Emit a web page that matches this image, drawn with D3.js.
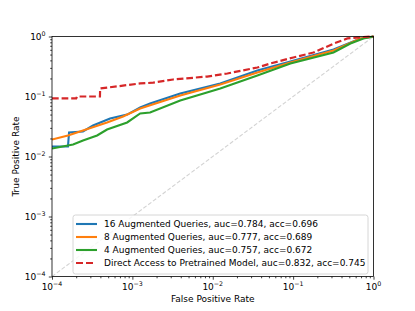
<!DOCTYPE html>
<html>
<head>
<meta charset="utf-8">
<script src="https://cdn.jsdelivr.net/npm/d3@7"></script>
<style>
  body { margin: 0; background: #fff; }
  svg text { font-family: "DejaVu Sans", sans-serif; fill: #000; }
</style>
</head>
<body>
<svg id="chart" width="415" height="311"></svg>
<script>
"use strict";

// ROC curves (fpr, tpr)
let fpr16 = [1e-4, 1.58e-4, 1.63e-4, 2.43e-4, 3.24e-4, 5.28e-4, 8.61e-4, 1.25e-3, 1.66e-3, 3.94e-3, 0.0124, 0.0359, 0.0925, 0.318, 0.689, 1];
let tpr16 = [0.0147, 0.0147, 0.0251, 0.0261, 0.0329, 0.043, 0.050, 0.0656, 0.0764, 0.112, 0.165, 0.271, 0.383, 0.607, 0.926, 1];

let fpr8 = [1e-4, 1.58e-4, 2.43e-4, 4.84e-4, 7.67e-4, 1.25e-3, 3.94e-3, 0.0124, 0.0359, 0.0925, 0.318, 0.689, 1];
let tpr8 = [0.0192, 0.0224, 0.0271, 0.0369, 0.0464, 0.063, 0.104, 0.158, 0.251, 0.369, 0.585, 0.926, 1];

let fpr4 = [1e-4, 1.83e-4, 2.43e-4, 3.64e-4, 4.84e-4, 8.61e-4, 1.25e-3, 1.66e-3, 3.94e-3, 0.0124, 0.0359, 0.0925, 0.318, 0.516, 0.75, 1];
let tpr4 = [0.0136, 0.0158, 0.0185, 0.0224, 0.0282, 0.0369, 0.0521, 0.0541, 0.0858, 0.136, 0.224, 0.355, 0.541, 0.764, 0.926, 1];

let fprDirect = [1e-4, 2.0e-4, 2.05e-4, 3.95e-4, 3.97e-4, 1.25e-3, 1.82e-3, 3.22e-3, 8.5e-3, 0.0152, 0.0359, 0.0521, 0.1007, 0.179, 0.318, 0.474, 0.75, 1];
let tprDirect = [0.093, 0.093, 0.1, 0.1, 0.136, 0.165, 0.17, 0.192, 0.215, 0.242, 0.304, 0.355, 0.447, 0.54, 0.76, 0.93, 0.98, 1];

let seriesNames = [
  "16 Augmented Queries, auc=0.784, acc=0.696",
  "8 Augmented Queries, auc=0.777, acc=0.689",
  "4 Augmented Queries, auc=0.757, acc=0.672",
  "Direct Access to Pretrained Model, auc=0.832, acc=0.745"
];
let seriesColors = ["#1f77b4", "#ff7f0e", "#2ca02c", "#d62728"];
let majorTicks = [1e-4, 1e-3, 1e-2, 1e-1, 1];
let tickExponents = ["\u22124", "\u22123", "\u22122", "\u22121", "0"];

let svg = d3.select("#chart");
let margin = { left: 52, right: 41.5, top: 36.5, bottom: 34.5 };
let plotW = 415 - margin.left - margin.right;
let plotH = 311 - margin.top - margin.bottom;

let x = d3.scaleLog().domain([1e-4, 1]).range([margin.left, margin.left + plotW]);
let y = d3.scaleLog().domain([1e-4, 1]).range([margin.top + plotH, margin.top]);

let minorTicks = [];
for (let e = -4; e < 0; e++) {
  for (let m = 2; m <= 9; m++) minorTicks.push(m * Math.pow(10, e));
}

// diagonal reference
svg.append("line")
  .attr("x1", x(1e-4)).attr("y1", y(1e-4))
  .attr("x2", x(1)).attr("y2", y(1))
  .attr("stroke", "#d3d3d3")
  .attr("stroke-width", 1.1)
  .attr("stroke-dasharray", "4,2");

svg.append("clipPath").attr("id", "plotclip")
  .append("rect")
  .attr("x", margin.left).attr("y", margin.top - 2)
  .attr("width", plotW + 2).attr("height", plotH + 2);

let line = d3.line()
  .x(d => x(d[0]))
  .y(d => y(d[1]));

let series = [
  { f: fpr16, t: tpr16 },
  { f: fpr8, t: tpr8 },
  { f: fpr4, t: tpr4 },
  { f: fprDirect, t: tprDirect }
];

series.forEach((s, i) => {
  let pts = s.f.map((v, j) => [v, s.t[j]]);
  let path = svg.append("path")
    .datum(pts)
    .attr("d", line)
    .attr("fill", "none")
    .attr("clip-path", "url(#plotclip)")
    .attr("stroke", seriesColors[i])
    .attr("stroke-width", i === 3 ? 2.2 : 2.1);
  if (i === 3) path.attr("stroke-dasharray", "6.7,2.9");
});

// Axes
let xAxisMajor = d3.axisBottom(x).tickValues(majorTicks).tickSize(3.2).tickFormat("");
let xAxisMinor = d3.axisBottom(x).tickValues(minorTicks).tickSize(1.8).tickFormat("");
let yAxisMajor = d3.axisLeft(y).tickValues(majorTicks).tickSize(3.2).tickFormat("");
let yAxisMinor = d3.axisLeft(y).tickValues(minorTicks).tickSize(1.8).tickFormat("");

[xAxisMajor, xAxisMinor].forEach(a => {
  svg.append("g").attr("transform", `translate(0,${margin.top + plotH})`).call(a)
    .call(g => g.select(".domain").remove())
    .selectAll("line").attr("stroke", "#000").attr("stroke-width", 0.75);
});
[yAxisMajor, yAxisMinor].forEach(a => {
  svg.append("g").attr("transform", `translate(${margin.left},0)`).call(a)
    .call(g => g.select(".domain").remove())
    .selectAll("line").attr("stroke", "#000").attr("stroke-width", 0.75);
});

// frame
svg.append("rect")
  .attr("x", margin.left).attr("y", margin.top)
  .attr("width", plotW).attr("height", plotH)
  .attr("fill", "none").attr("stroke", "#000").attr("stroke-width", 0.8);

// tick labels
function powerLabel(sel, exp) {
  sel.append("tspan").text("10").style("font-size", "9px");
  sel.append("tspan").text(exp).attr("dy", -3.8).style("font-size", "6.3px");
}
majorTicks.forEach((v, i) => {
  svg.append("text")
    .attr("x", x(v)).attr("y", margin.top + plotH + 13.5)
    .attr("text-anchor", "middle")
    .call(powerLabel, tickExponents[i]);
  svg.append("text")
    .attr("x", margin.left - 6.4).attr("y", y(v) + 3.3)
    .attr("text-anchor", "end")
    .call(powerLabel, tickExponents[i]);
});

// axis titles
svg.append("text")
  .attr("x", margin.left + plotW / 2).attr("y", 302)
  .attr("text-anchor", "middle")
  .style("font-size", "9px")
  .text("False Positive Rate");
svg.append("text")
  .attr("transform", `translate(19,${margin.top + plotH / 2}) rotate(-90)`)
  .attr("text-anchor", "middle")
  .style("font-size", "9px")
  .text("True Positive Rate");

// legend
let legend = svg.append("g");
legend.append("rect")
  .attr("x", 73).attr("y", 215)
  .attr("width", 295).attr("height", 59)
  .attr("rx", 2.5)
  .attr("fill", "#fff").attr("fill-opacity", 0.8)
  .attr("stroke", "#cccccc").attr("stroke-width", 0.8);

seriesNames.forEach((name, i) => {
  let cy = 224 + i * 13;
  let l = legend.append("line")
    .attr("x1", 76).attr("x2", i === 3 ? 94 : 97)
    .attr("y1", cy).attr("y2", cy)
    .attr("stroke", seriesColors[i])
    .attr("stroke-width", i === 3 ? 2.2 : 2.1);
  if (i === 3) l.attr("stroke-dasharray", "7,3");
  legend.append("text")
    .attr("x", 104).attr("y", cy + 3.3)
    .style("font-size", "9px")
    .text(name);
});
</script>
</body>
</html>
